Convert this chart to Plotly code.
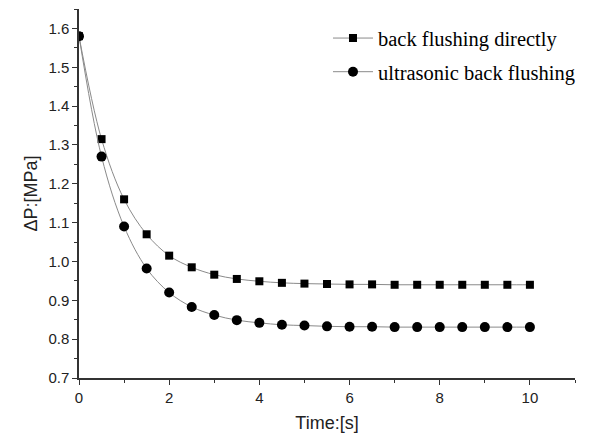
import plotly.graph_objects as go

time_s = [0, 0.5, 1.0, 1.5, 2.0, 2.5, 3.0, 3.5, 4.0, 4.5, 5.0, 5.5, 6.0, 6.5, 7.0, 7.5, 8.0, 8.5, 9.0, 9.5, 10.0]
back_flushing_directly = [1.58, 1.315, 1.16, 1.07, 1.015, 0.985, 0.966, 0.955, 0.949, 0.945, 0.943,
                          0.942, 0.941, 0.941, 0.940, 0.940, 0.940, 0.940, 0.940, 0.940, 0.940]
ultrasonic_back_flushing = [1.58, 1.27, 1.09, 0.982, 0.92, 0.883, 0.862, 0.849, 0.842, 0.837, 0.835,
                            0.833, 0.832, 0.832, 0.831, 0.831, 0.831, 0.831, 0.831, 0.831, 0.831]

fig = go.Figure()
fig.add_trace(go.Scatter(
    x=time_s, y=back_flushing_directly, mode="lines+markers",
    name="back flushing directly", legendgroup="a",
    line=dict(color="#8a8a8a", width=1, shape="spline"),
    marker=dict(symbol="square", size=8, color="black"),
))
fig.add_trace(go.Scatter(
    x=time_s, y=ultrasonic_back_flushing, mode="lines+markers",
    name="ultrasonic back flushing", legendgroup="b",
    line=dict(color="#8a8a8a", width=1, shape="spline"),
    marker=dict(symbol="circle", size=10, color="black"),
))

axis_common = dict(
    showline=True, linecolor="#333", linewidth=1.5, mirror=False,
    ticks="outside", ticklen=5, tickwidth=1.2, tickcolor="#333",
    showgrid=False, zeroline=False, automargin=False,
    tickfont=dict(family="Liberation Sans, Arial", size=15, color="#222"),
    minor=dict(ticks="outside", ticklen=3, tickwidth=1, tickcolor="#333"),
)

fig.update_layout(
    width=595, height=433,
    margin=dict(l=79, r=20, t=9, b=55),
    paper_bgcolor="white", plot_bgcolor="white",
    xaxis=dict(range=[0, 11], dtick=2, tick0=0,
               title=dict(text="Time:[s]", font=dict(family="Liberation Sans, Arial", size=18, color="#222"), standoff=12),
               **axis_common),
    yaxis=dict(range=[0.7, 1.65], dtick=0.1, tick0=0.7, tickformat=".1f",
               title=dict(text="ΔP:[MPa]", font=dict(family="Liberation Sans, Arial", size=18, color="#222"), standoff=6),
               **axis_common),
    legend=dict(x=0.502, y=0.975, xanchor="left", yanchor="top",
                font=dict(family="Liberation Serif, Times New Roman", size=20.5, color="black"),
                bgcolor="rgba(0,0,0,0)", itemwidth=40, tracegroupgap=4, traceorder="grouped"),
    showlegend=True,
)
fig.update_xaxes(minor=dict(dtick=1))
fig.update_yaxes(minor=dict(dtick=0.05))

fig.write_html("out.html")
